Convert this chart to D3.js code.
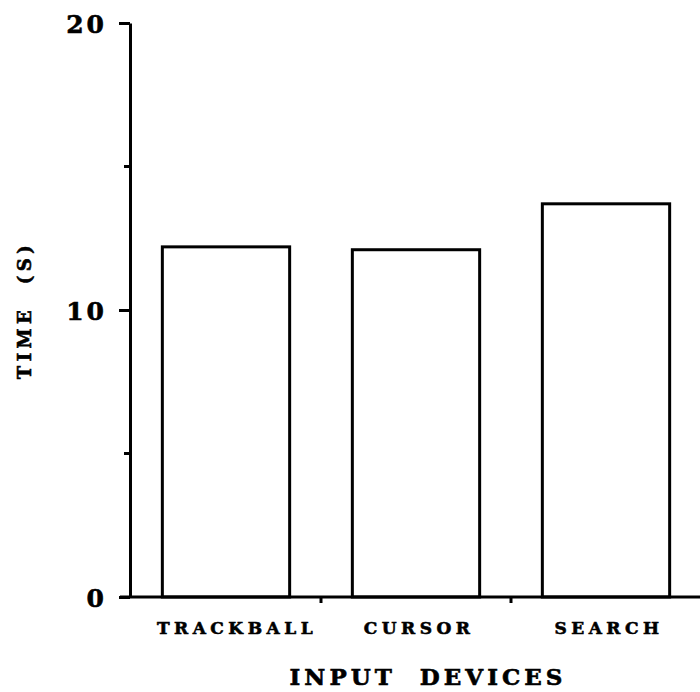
<!DOCTYPE html>
<html>
<head>
<meta charset="utf-8">
<script src="https://cdn.jsdelivr.net/npm/d3@7"></script>
<style>
  body { margin: 0; background: #fff; }
  svg text { font-family: "DejaVu Serif", serif; font-weight: bold; fill: #000; stroke: #000; stroke-width: 0.6px; }
</style>
</head>
<body>
<div id="chart"></div>
<script>
var devices = ["TRACKBALL", "CURSOR", "SEARCH"];
var times = [12.2, 12.1, 13.7];
var majorTicks = [0, 10, 20];
var minorTicks = [5, 15];

var margin = { top: 23, right: 0, bottom: 95, left: 130 },
    width = 700 - margin.left - margin.right,
    height = 692 - margin.top - margin.bottom;

var svg = d3.select("#chart")
    .append("svg")
    .attr("width", 700)
    .attr("height", 692)
    .append("g")
    .attr("transform", "translate(" + margin.left + "," + margin.top + ")");

var yScale = d3.scaleLinear().domain([0, 20]).range([height, 0]);

var xScale = d3.scaleBand()
    .domain(devices)
    .range([1, 571])
    .paddingInner(0.33)
    .paddingOuter(0.165);

// bars
svg.append("g")
    .selectAll("rect")
    .data(devices)
    .enter().append("rect")
    .attr("x", d => xScale(d))
    .attr("y", (d, i) => yScale(times[i]))
    .attr("width", xScale.bandwidth())
    .attr("height", (d, i) => height - yScale(times[i]))
    .attr("fill", "none")
    .attr("stroke", "#000")
    .attr("stroke-width", 3);

// y axis
var yAxis = svg.append("g")
    .call(d3.axisLeft(yScale).tickValues(majorTicks).tickSize(11).tickSizeOuter(0).tickPadding(12).tickFormat(d3.format("d")));
yAxis.select(".domain").attr("stroke-width", 3);
yAxis.selectAll(".tick line").attr("stroke-width", 3);
yAxis.selectAll(".tick text")
    .style("font-size", "25px")
    .style("letter-spacing", "3px")
    .attr("dy", "0.36em");

svg.append("g")
    .selectAll("line")
    .data(minorTicks)
    .enter().append("line")
    .attr("x1", -6).attr("x2", 0)
    .attr("y1", d => yScale(d)).attr("y2", d => yScale(d))
    .attr("stroke", "#000")
    .attr("stroke-width", 3);

// x axis
svg.append("line")
    .attr("x1", -10).attr("x2", width)
    .attr("y1", height).attr("y2", height)
    .attr("stroke", "#000")
    .attr("stroke-width", 3);

var step = xScale.step();
svg.append("g")
    .selectAll("line")
    .data(devices.slice(1))
    .enter().append("line")
    .attr("x1", d => xScale(d) - step * xScale.paddingInner() / 2)
    .attr("x2", d => xScale(d) - step * xScale.paddingInner() / 2)
    .attr("y1", height).attr("y2", height + 6)
    .attr("stroke", "#000")
    .attr("stroke-width", 3);

var xAxis = svg.append("g")
    .attr("transform", "translate(0," + height + ")")
    .call(d3.axisBottom(xScale).tickSize(0).tickPadding(25));
xAxis.select(".domain").remove();
xAxis.selectAll(".tick text")
    .style("font-size", "17px")
    .style("letter-spacing", "4.5px")
    .attr("dx", (d, i) => i === 0 ? "11px" : "3px");

// axis titles
svg.append("text")
    .attr("x", xScale.step() * 1.5 + 13)
    .attr("y", height + 88)
    .attr("text-anchor", "middle")
    .style("font-size", "23px")
    .style("letter-spacing", "4px")
    .style("white-space", "pre")
    .text("INPUT  DEVICES");

svg.append("text")
    .attr("transform", "rotate(-90)")
    .attr("x", -(yScale(10)))
    .attr("y", -99)
    .attr("text-anchor", "middle")
    .style("font-size", "18px")
    .style("letter-spacing", "4.5px")
    .style("white-space", "pre")
    .text("TIME  (S)");
</script>
</body>
</html>
